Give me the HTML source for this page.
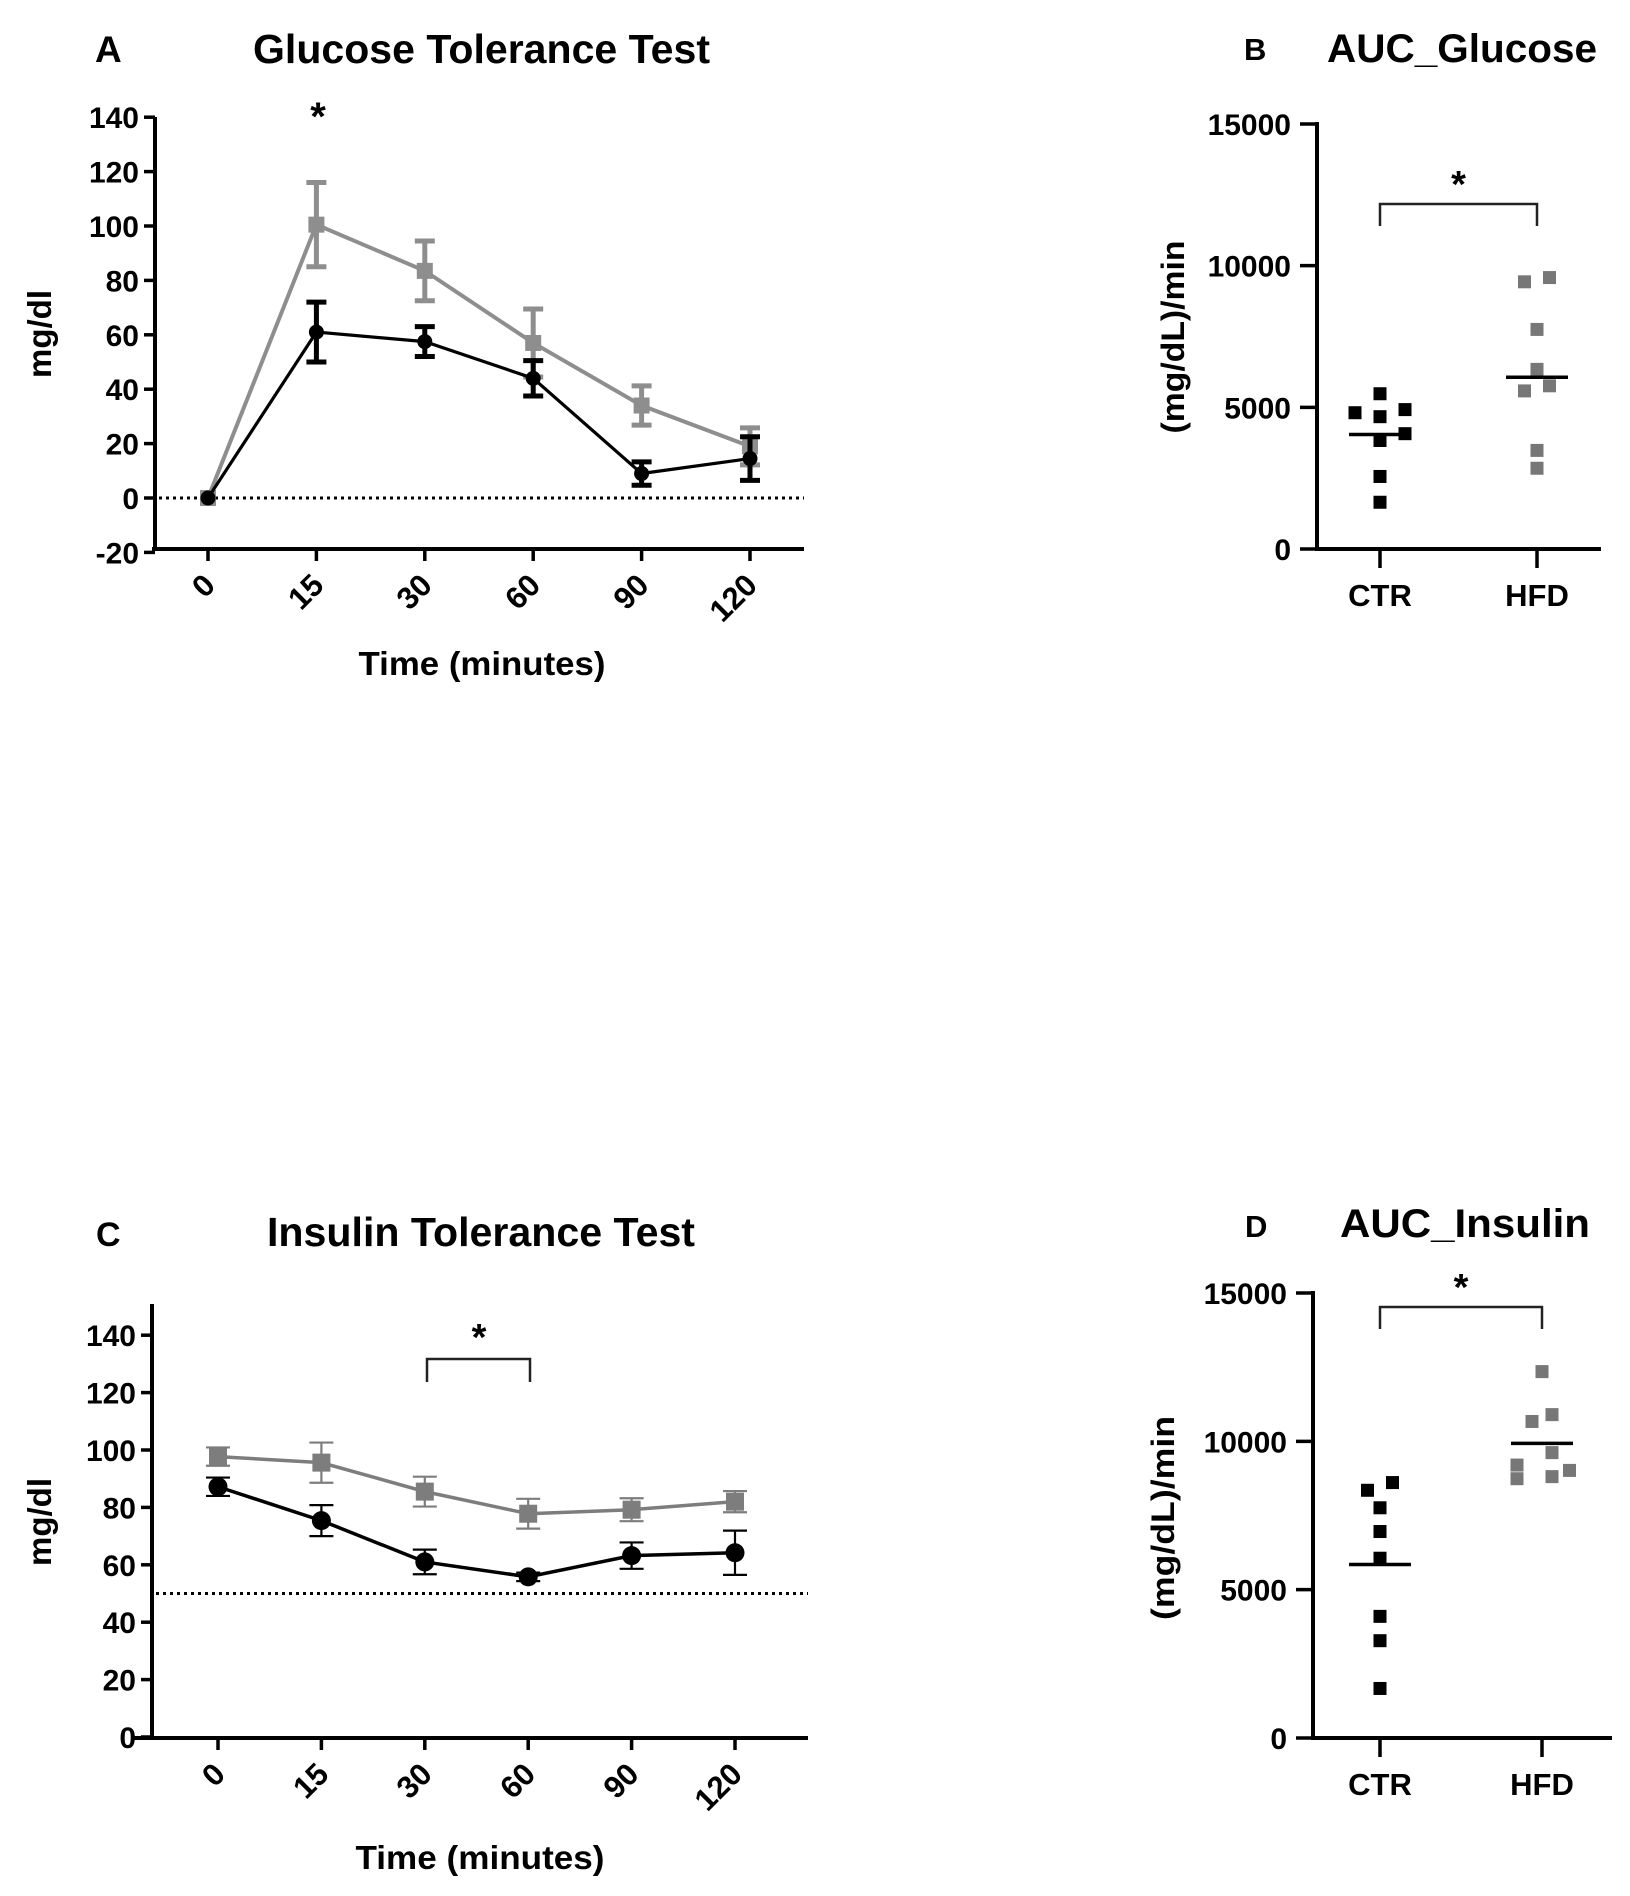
<!DOCTYPE html>
<html><head><meta charset="utf-8"><style>
html,body{margin:0;padding:0;background:#fff;}
svg{display:block;font-family:"Liberation Sans",Arial,sans-serif;font-weight:bold;}
</style></head><body>
<svg id="fig" width="1630" height="1896" viewBox="0 0 1630 1896" xmlns="http://www.w3.org/2000/svg">
<g id="layer"></g>
</svg>
<script>
// ---- Panel A data ----
const timeCats = ["0","15","30","60","90","120"];
const gttHFD = [0, 100.5, 83.5, 57, 34, 19];
const gttHFDErr = [0, 15.5, 11, 12.5, 7.2, 6.8];
const gttCTR = [0, 61, 57.5, 44, 9, 14.5];
const gttCTRErr = [0, 11, 5.5, 6.5, 4.3, 8];
const gttTicks = [-20, 0, 20, 40, 60, 80, 100, 120, 140];
// ---- Panel C data ----
const ittHFD = [97.7, 95.6, 85.5, 77.8, 79.2, 82];
const ittHFDErr = [3.2, 7, 5.2, 5.2, 4, 3.7];
const ittCTR = [87.2, 75.4, 61, 55.8, 63.2, 64.2];
const ittCTRErr = [3.2, 5.4, 4.3, 1.5, 4.6, 7.7];
const ittTicks = [0, 20, 40, 60, 80, 100, 120, 140];
// ---- Panel B data ----
const groups = ["CTR","HFD"];
const aucGluCTR = [4810, 5480, 4920, 4670, 4070, 3830, 2560, 1650];
const aucGluHFD = [9430, 9580, 7750, 6340, 5580, 5760, 3480, 2850];
const aucGluMeans = [4040, 6060];
// ---- Panel D data ----
const aucInsCTR = [8350, 8610, 7760, 6960, 6060, 4100, 3280, 1670];
const aucInsHFD = [12350, 10670, 10900, 9620, 9200, 8740, 8810, 9020];
const aucInsMeans = [5850, 9930];
const aucTicks = [0, 5000, 10000, 15000];
// jitter slots (in units of marker spacing)
const jitGluCTR = [-1, 0, 1, 0, 1, 0, 0, 0];
const jitGluHFD = [-0.5, 0.5, 0, 0, -0.5, 0.5, 0, 0];
const jitInsCTR = [-0.5, 0.5, 0, 0, 0, 0, 0, 0];
const jitInsHFD = [0, -0.4, 0.4, 0.4, -1, -1, 0.4, 1.1];

const NS = "http://www.w3.org/2000/svg";
const L = document.getElementById('layer');
function mk(tag, attrs, parent){const e=document.createElementNS(NS,tag);for(const k in attrs)e.setAttribute(k,attrs[k]);(parent||L).appendChild(e);return e;}
function txt(s, attrs, parent){const e=mk('text',attrs,parent);e.textContent=s;return e;}

function linePanel(o){
  const g=mk('g',{});
  
  
  const y=v=>o.y0+(v-0)*(o.y1-o.y0)/(o.v1-0);
  const x=i=>o.xs[0]+i*(o.xs[1]-o.xs[0])/(timeCats.length-1);
  const ya=mk('line',{x1:o.ax,y1:o.yTop,x2:o.ax,y2:o.xAxisY+2,stroke:'#000','stroke-width':4},g);
  
  const xa=mk('line',{x1:o.xaStart,y1:o.xAxisY,x2:o.xaEnd,y2:o.xAxisY,stroke:'#000','stroke-width':4},g);
  
  o.ticks.forEach(t=>{
    const yy=y(t);
    mk('line',{x1:o.ax-11,y1:yy,x2:o.ax,y2:yy,stroke:'#000','stroke-width':3.5},g);
    const tl=txt(String(t),{x:o.ax-16,y:yy+11,'font-size':30,'text-anchor':'end'},g);
    
  });
  timeCats.forEach((c,i)=>{
    const xx=x(i);
    mk('line',{x1:xx,y1:o.xAxisY,x2:xx,y2:o.xAxisY+12,stroke:'#000','stroke-width':3.5},g);
    const tl=txt(c,{x:0,y:0,'font-size':31,'text-anchor':'end',transform:`translate(${xx+9},${o.xAxisY+38}) rotate(-45)`},g);
    
  });
  const dl=mk('line',{x1:o.ax+4,y1:y(o.refV),x2:o.xaEnd,y2:y(o.refV),stroke:'#000','stroke-width':3,'stroke-dasharray':'3 4'},g);
  
  const series=[{v:o.hfd,e:o.hfdE,c:o.grey,m:'sq',n:'hfd',lw:o.lwG},{v:o.ctr,e:o.ctrE,c:'#000',m:'ci',n:'ctr',lw:o.lw}];
  series.forEach(s=>{
    const pts=s.v.map((v,i)=>x(i)+','+y(v)).join(' ');
    const pl=mk('polyline',{points:pts,fill:'none',stroke:s.c,'stroke-width':s.lw},g);
    
    s.v.forEach((v,i)=>{
      const xx=x(i);
      if(s.e[i]>0){
        const eb=mk('path',{d:`M${xx},${y(v+s.e[i])}V${y(v-s.e[i])}M${xx-o.cap},${y(v+s.e[i])}H${xx+o.cap}M${xx-o.cap},${y(v-s.e[i])}H${xx+o.cap}`,stroke:s.c,'stroke-width':o.ew,fill:'none'},g);
        
      }
      let mEl;
      if(s.m==='sq') mEl=mk('rect',{x:xx-o.sq/2,y:y(v)-o.sq/2,width:o.sq,height:o.sq,fill:s.c},g);
      else mEl=mk('circle',{cx:xx,cy:y(v),r:o.r,fill:s.c},g);
      
    });
  });
  return g;
}

linePanel({name:'glucose-tolerance-plot',ax:155,yTop:117,xAxisY:549,xaStart:152,xaEnd:804,y0:498,y1:226,v1:100,xs:[208,750],
  ticks:gttTicks,refV:0,hfd:gttHFD,hfdE:gttHFDErr,ctr:gttCTR,ctrE:gttCTRErr,grey:'#8e8e8e',lw:3.2,lwG:4,ew:5,cap:10,sq:16,r:7.5});
linePanel({name:'insulin-tolerance-plot',ax:152,yTop:1304,xAxisY:1738,xaStart:132,xaEnd:808,y0:1737,y1:1450,v1:100,xs:[218,735],
  ticks:ittTicks,refV:50,hfd:ittHFD,hfdE:ittHFDErr,ctr:ittCTR,ctrE:ittCTRErr,grey:'#7d7d7d',lw:3.5,lwG:3.5,ew:2.2,cap:12,sq:18,r:9.5});

function aucPanel(o){
  const g=mk('g',{});
  
  
  const y=v=>o.y0+v*(o.y1-o.y0)/15000;
  const ya=mk('line',{x1:o.ax,y1:y(15000)-2,x2:o.ax,y2:o.y0+2,stroke:'#000','stroke-width':4},g);
  
  const xa=mk('line',{x1:o.ax-2,y1:o.y0,x2:o.xaEnd,y2:o.y0,stroke:'#000','stroke-width':4},g);
  
  aucTicks.forEach(t=>{
    const yy=y(t);
    mk('line',{x1:o.ax-17,y1:yy,x2:o.ax,y2:yy,stroke:'#000','stroke-width':3.5},g);
    const tl=txt(String(t),{x:o.ax-26,y:yy+11,'font-size':30,'text-anchor':'end'},g);
    
  });
  groups.forEach((gname,i)=>{
    const xx=o.gx[i];
    mk('line',{x1:xx,y1:o.y0,x2:xx,y2:o.y0+19,stroke:'#000','stroke-width':3.5},g);
    const tl=txt(gname,{x:xx,y:o.y0+57,'font-size':31,'text-anchor':'middle'},g);
    
  });
  const sets=[{v:o.ctr,j:o.jc,c:'#000',n:'ctr'},{v:o.hfd,j:o.jh,c:'#777',n:'hfd'}];
  sets.forEach((s,gi)=>{
    s.v.forEach((v,k)=>{
      const xx=o.gx[gi]+s.j[k]*o.jw;
      const r=mk('rect',{x:xx-6.5,y:y(v)-6.5,width:13,height:13,fill:s.c},g);
      
    });
    const ml=mk('line',{x1:o.gx[gi]-31,y1:y(o.means[gi]),x2:o.gx[gi]+31,y2:y(o.means[gi]),stroke:'#000','stroke-width':3.5},g);
    
  });
  const br=mk('path',{d:`M${o.gx[0]},${o.brY+22}V${o.brY}H${o.gx[1]}V${o.brY+22}`,fill:'none',stroke:'#222','stroke-width':2.5},g);
  
  const st=txt('*',{x:(o.gx[0]+o.gx[1])/2,y:o.brY-7,'font-size':38,'text-anchor':'middle'},g);
  
}
aucPanel({name:'auc-glucose-plot',ax:1317,y0:549,y1:124,xaEnd:1601,gx:[1380,1537],ctr:aucGluCTR,hfd:aucGluHFD,jc:jitGluCTR,jh:jitGluHFD,jw:25,means:aucGluMeans,brY:204});
aucPanel({name:'auc-insulin-plot',ax:1313,y0:1738,y1:1293,xaEnd:1612,gx:[1380,1542],ctr:aucInsCTR,hfd:aucInsHFD,jc:jitInsCTR,jh:jitInsHFD,jw:25,means:aucInsMeans,brY:1307});

function label(s,attrs,name){const t=txt(s,attrs);return t;}
label('A',{x:95,y:62,'font-size':37},'panel-letter-a');
label('Glucose Tolerance Test',{x:253,y:63,'font-size':41,textLength:457,lengthAdjust:'spacingAndGlyphs'},'title-glucose');
label('*',{x:318,y:130,'font-size':40,'text-anchor':'middle'},'significance-star-15');
label('mg/dl',{x:0,y:0,'font-size':33,'text-anchor':'middle',transform:'translate(51,334) rotate(-90)'},'y-axis-title-a');
label('Time (minutes)',{x:482,y:675,'font-size':33,'text-anchor':'middle',textLength:247,lengthAdjust:'spacingAndGlyphs'},'x-axis-title-a');

label('B',{x:1244,y:60,'font-size':31},'panel-letter-b');
label('AUC_Glucose',{x:1327,y:62,'font-size':40,textLength:270,lengthAdjust:'spacingAndGlyphs'},'title-auc-glucose');
label('(mg/dL)/min',{x:0,y:0,'font-size':32,'text-anchor':'middle',textLength:193,lengthAdjust:'spacingAndGlyphs',transform:'translate(1184,337) rotate(-90)'},'y-axis-title-b');

label('C',{x:96,y:1246,'font-size':34},'panel-letter-c');
label('Insulin Tolerance Test',{x:267,y:1246,'font-size':41,textLength:428,lengthAdjust:'spacingAndGlyphs'},'title-insulin');
label('mg/dl',{x:0,y:0,'font-size':33,'text-anchor':'middle',transform:'translate(51,1522) rotate(-90)'},'y-axis-title-c');
label('Time (minutes)',{x:480,y:1869,'font-size':33,'text-anchor':'middle',textLength:249,lengthAdjust:'spacingAndGlyphs'},'x-axis-title-c');
const bC=mk('path',{d:'M427,1382V1359H530V1382',fill:'none',stroke:'#222','stroke-width':2.5});


label('*',{x:479,y:1350,'font-size':38,'text-anchor':'middle'},'significance-star-c');

label('D',{x:1245,y:1237,'font-size':31},'panel-letter-d');
label('AUC_Insulin',{x:1340,y:1237,'font-size':40,textLength:250,lengthAdjust:'spacingAndGlyphs'},'title-auc-insulin');
label('(mg/dL)/min',{x:0,y:0,'font-size':32,'text-anchor':'middle',textLength:204,lengthAdjust:'spacingAndGlyphs',transform:'translate(1174,1518) rotate(-90)'},'y-axis-title-d');
</script>
</body></html>
